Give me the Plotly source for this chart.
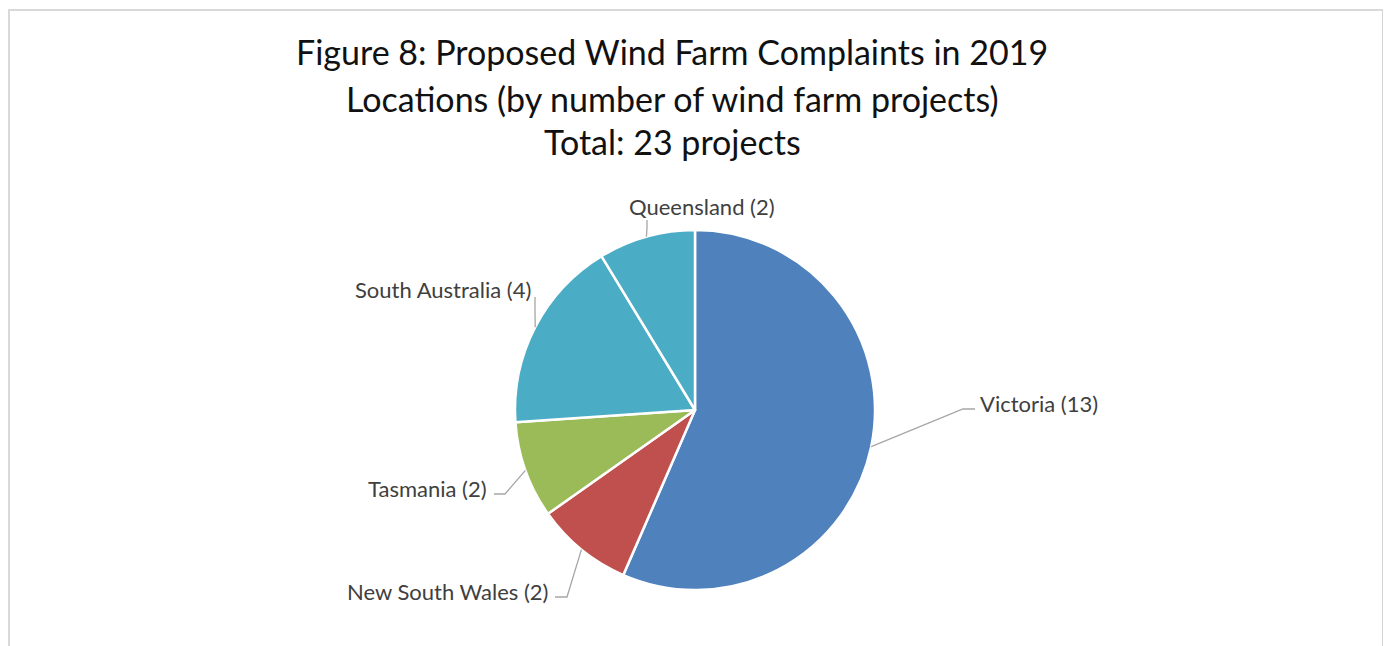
import math
import plotly.graph_objects as go

# ---- data ----
TITLE_LINES = [
    "Figure 8: Proposed Wind Farm Complaints in 2019",
    "Locations (by number of wind farm projects)",
    "Total: 23 projects",
]
STATES = ["Victoria", "New South Wales", "Tasmania", "South Australia", "Queensland"]
PROJECTS = [13, 2, 2, 4, 2]
COLORS = ["#4F81BD", "#C0504D", "#9BBB59", "#4BACC6", "#4BACC6"]

# ---- layout constants (pixels in the reference picture) ----
W, H = 1391, 646
OFF = 8  # page body margin
FW, FH = W - OFF, H - OFF
CX, CY, R = 695, 410, 180
LABEL_FONT = "Lato, Carlito, Calibri, sans-serif"
# per label: elbow point, end point, text anchor point, xanchor
LEADERS = {
    "Victoria": ((963, 409), (975, 409), (978, 403), "left"),
    "New South Wales": ((567, 597), (555, 597), (550, 591), "right"),
    "Tasmania": ((505, 494), (494, 494), (489, 488), "right"),
    "South Australia": ((535, 310), (535, 297), (533, 289), "right"),
    "Queensland": ((647, 228), (647, 220), (702, 206), "center"),
}


def px_x(x):
    return (x - OFF) / FW


def px_y(y):
    return 1 - (y - OFF) / FH


fig = go.Figure()
fig.add_trace(go.Pie(
    labels=STATES,
    values=PROJECTS,
    sort=False,
    direction="clockwise",
    rotation=0,
    textinfo="none",
    hoverinfo="label+value",
    marker=dict(colors=COLORS, line=dict(color="white", width=2.5)),
    showlegend=False,
    domain=dict(x=[px_x(CX - R), px_x(CX + R)], y=[px_y(CY + R), px_y(CY - R)]),
))

shapes = []
annotations = []

# leader lines + labels, anchored at slice mid-angles from the data
total = sum(PROJECTS)
cum = 0
for name, val in zip(STATES, PROJECTS):
    mid = (cum + val / 2) / total * 2 * math.pi
    cum += val
    ax = CX + R * math.sin(mid)
    ay = CY - R * math.cos(mid)
    (ex, ey), (tx, ty), (lx, ly), xa = LEADERS[name]
    shapes.append(dict(type="path", xref="x", yref="y",
                       path=f"M {ax:.1f},{ay:.1f} L {ex},{ey} L {tx},{ty}",
                       line=dict(color="#A6A6A6", width=1.3)))
    annotations.append(dict(x=lx, y=ly, xref="x", yref="y", text=f"{name} ({val})",
                            showarrow=False, xanchor=xa, yanchor="middle",
                            font=dict(family=LABEL_FONT, size=22, color="#404040")))

# title lines
for line, yy in zip(TITLE_LINES, [51, 98, 141]):
    annotations.append(dict(x=672, y=yy, xref="x", yref="y", text=line, showarrow=False,
                            xanchor="center", yanchor="middle",
                            font=dict(family=LABEL_FONT, size=34, color="#111111")))

# chart frame + shadow (paper refs so they are not clipped)
def prect(x0, y0, x1, y1, color):
    return dict(type="rect", xref="paper", yref="paper",
                x0=px_x(x0), x1=px_x(x1), y0=px_y(y1), y1=px_y(y0),
                line=dict(width=0), fillcolor=color, layer="below")

shapes.append(prect(8, 9, 1384, 11, "#D9D9D9"))      # top
shapes.append(prect(8, 9, 10, 660, "#D9D9D9"))       # left
shapes.append(prect(1382, 9, 1384, 660, "#D4D4D4"))  # right
for i, c in enumerate(["#bdbdbd", "#cacaca", "#d7d7d7", "#e3e3e3", "#eeeeee", "#f7f7f7"]):
    shapes.append(prect(1384 + i, 13 + i, 1385 + i, 660, c))

fig.update_layout(
    width=FW, height=FH,
    margin=dict(l=0, r=0, t=0, b=0),
    paper_bgcolor="white", plot_bgcolor="rgba(0,0,0,0)",
    xaxis=dict(range=[OFF, W], visible=False, fixedrange=True, domain=[0, 1]),
    yaxis=dict(range=[H, OFF], visible=False, fixedrange=True, domain=[0, 1]),
    shapes=shapes,
    annotations=annotations,
)

fig.write_html("out.html")
